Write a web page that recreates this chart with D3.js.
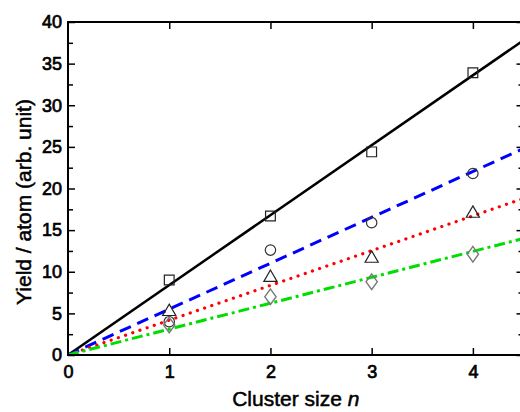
<!DOCTYPE html>
<html>
<head>
<meta charset="utf-8">
<script src="https://cdn.jsdelivr.net/npm/d3@7"></script>
<style>
  body { margin: 0; background: #fff; }
  text { font-family: "Liberation Sans", Arial, sans-serif; }
</style>
</head>
<body>
<script>
// cluster sizes measured
var clusterSize = [1, 2, 3, 4];
// yields per atom, one array per marker type
var squareYield = [9.0, 16.7, 24.4, 33.9];
var circleYield = [4.0, 12.6, 15.9, 21.8];
var triangleYield = [5.2, 9.3, 11.6, 17.0];
var diamondYield = [3.6, 7.0, 8.8, 12.1];
// fitted lines through the origin: value at n = 0 and n = 4.5
var fitX = [0, 4.5];
var squareFit = [0, 37.8];
var circleFit = [0, 24.8];
var triangleFit = [0, 18.8];
var diamondFit = [0, 14.0];

var xTicks = [0, 1, 2, 3, 4];
var yTicks = [0, 5, 10, 15, 20, 25, 30, 35, 40];
var yMinorTicks = [2.5, 7.5, 12.5, 17.5, 22.5, 27.5, 32.5, 37.5];

var width = 520, height = 412;
var mLeft = 68, mRight = 523.5, mTop = 22, mBottom = 355;

var svg = d3.select("body").append("svg")
  .attr("width", width)
  .attr("height", height);

var x = d3.scaleLinear().domain([0, 4.5]).range([mLeft, mRight]);
var y = d3.scaleLinear().domain([0, 40]).range([mBottom, mTop]);

svg.append("defs").append("clipPath").attr("id", "plot")
  .append("rect")
  .attr("x", mLeft).attr("y", mTop)
  .attr("width", mRight - mLeft).attr("height", mBottom - mTop);

// fit lines
var fits = [
  { v: squareFit, color: "#000000", dash: null, w: 2.5 },
  { v: circleFit, color: "#0000ff", dash: "12,7", w: 3 },
  { v: triangleFit, color: "#ff0000", dash: "0.1,7.5", w: 3.2, cap: "round" },
  { v: diamondFit, color: "#00dd00", dash: "11,4,3,4", w: 3 }
];
var line = d3.line()
  .x(function(d, i) { return x(fitX[i]); })
  .y(function(d) { return y(d); });

fits.forEach(function(f) {
  svg.append("path")
    .attr("clip-path", "url(#plot)")
    .attr("d", line(f.v))
    .attr("fill", "none")
    .attr("stroke", f.color)
    .attr("stroke-width", f.w)
    .attr("stroke-dasharray", f.dash)
    .attr("stroke-linecap", f.cap || "butt");
});

// markers
var markers = [
  { v: squareYield, type: d3.symbolSquare, size: 95, color: "#222" },
  { v: circleYield, type: d3.symbolCircle, size: 85, color: "#333" },
  { v: triangleYield, type: d3.symbolTriangle, size: 75, color: "#222" },
  { v: diamondYield, type: d3.symbolDiamond, size: 70, color: "#777" }
];
markers.forEach(function(m) {
  svg.selectAll(null)
    .data(m.v)
    .enter()
    .append("path")
    .attr("d", d3.symbol().type(m.type).size(m.size))
    .attr("transform", function(d, i) {
      return "translate(" + x(clusterSize[i]) + "," + y(d) + ")" + (m.type === d3.symbolDiamond ? " scale(1.25,1)" : "");
    })
    .attr("fill", "none")
    .attr("stroke", m.color)
    .attr("stroke-width", 1.2);
});

// frame
svg.append("rect")
  .attr("x", mLeft).attr("y", mTop)
  .attr("width", mRight - mLeft).attr("height", mBottom - mTop)
  .attr("fill", "none")
  .attr("stroke", "#000")
  .attr("stroke-width", 2);

// axes with inward ticks
var xAxis = d3.axisBottom(x).tickValues(xTicks).tickSizeInner(-7).tickSizeOuter(0).tickPadding(10).tickFormat(d3.format("d"));
var gx = svg.append("g").attr("transform", "translate(0," + mBottom + ")").call(xAxis);
svg.append("g").attr("transform", "translate(0," + mTop + ")")
  .call(d3.axisTop(x).tickValues(xTicks.slice(1)).tickSizeInner(-7).tickSizeOuter(0).tickFormat(""));

var yAxis = d3.axisLeft(y).tickValues(yTicks).tickSizeInner(-7).tickSizeOuter(0).tickPadding(6).tickFormat(d3.format("d"));
svg.append("g").attr("transform", "translate(" + mLeft + ",0)").call(yAxis);
svg.append("g").attr("transform", "translate(" + mLeft + ",0)")
  .call(d3.axisLeft(y).tickValues(yMinorTicks).tickSizeInner(-5).tickSizeOuter(0).tickFormat(""));
svg.append("g").attr("transform", "translate(" + mRight + ",0)")
  .call(d3.axisRight(y).tickValues(yTicks).tickSizeInner(-7).tickSizeOuter(0).tickFormat(""));
svg.append("g").attr("transform", "translate(" + mRight + ",0)")
  .call(d3.axisRight(y).tickValues(yMinorTicks).tickSizeInner(-5).tickSizeOuter(0).tickFormat(""));

svg.selectAll(".domain").remove();
svg.selectAll(".tick line").attr("stroke", "#000").attr("stroke-width", 1.5);
svg.selectAll(".tick text")
  .attr("font-family", "Liberation Sans, Arial, sans-serif")
  .attr("font-size", "18px")
  .attr("fill", "#000")
  .attr("stroke", "#000")
  .attr("stroke-width", 0.7);
gx.selectAll(".tick line").filter(function(d) { return d === 0; }).remove();

// axis titles
svg.append("text")
  .attr("x", (mLeft + mRight) / 2)
  .attr("y", 406)
  .attr("text-anchor", "middle")
  .attr("font-size", "21px")
  .attr("stroke", "#000")
  .attr("stroke-width", 0.5)
  .html('Cluster size <tspan font-style="italic">n</tspan>');

svg.append("text")
  .attr("transform", "translate(31,202) rotate(-90)")
  .attr("text-anchor", "middle")
  .attr("font-size", "21px")
  .attr("stroke", "#000")
  .attr("stroke-width", 0.5)
  .text("Yield / atom (arb. unit)");
</script>
</body>
</html>
